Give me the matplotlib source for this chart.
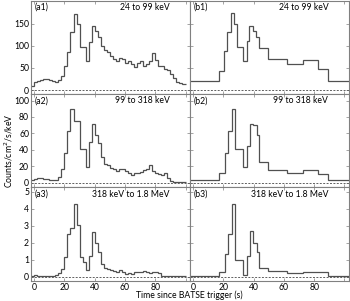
import numpy as np
import matplotlib.pyplot as plt

plt.rcParams['font.family'] = ['Lato', 'DejaVu Sans']
plt.rcParams['font.size'] = 6.2

# left column: fine time bins (2 s)
t_edges_a = np.arange(-2, 101, 2)
a1 = [9, 19, 21, 23, 24, 24, 23, 21, 19, 22, 32, 54, 86, 132, 172, 150, 98, 98, 65, 109,
      145, 133, 119, 100, 90, 86, 77, 71, 65, 73, 69, 62, 65, 58, 52, 62, 65, 54, 58, 65,
      83, 67, 54, 54, 48, 45, 37, 27, 19, 15, 14]
a2 = [3, 4, 5, 5, 4, 4, 3, 3, 3, 7, 17, 36, 63, 90, 75, 75, 41, 41, 19, 50,
      71, 58, 48, 31, 23, 21, 18, 16, 14, 16, 17, 14, 11, 9, 11, 11, 13, 15, 16, 21,
      14, 11, 10, 9, 11, 5, 2, 1, 1, 1, 1]
a3 = [0.02, 0.08, 0.05, 0.05, 0.04, 0.05, 0.05, 0.05, 0.1, 0.2, 0.44, 1.15, 2.5, 2.85, 4.3, 3.05,
      1.15, 0.85, 0.4, 1.2, 2.65, 1.95, 1.43, 0.75, 0.5, 0.43, 0.38, 0.33, 0.29, 0.38, 0.25,
      0.13, 0.2, 0.18, 0.29, 0.25, 0.29, 0.34, 0.25, 0.2, 0.25, 0.25, 0.2, 0.06, 0.05, 0.03,
      0.03, 0.03, 0.03, 0.03, 0.03]

# right column: variable-width blocks
t_edges_b1 = [-2, 16.8, 20.7, 22.2, 24.8, 27.0, 29.2, 33.2, 35.4, 37.1, 39.3, 41.9, 43.7,
              49.6, 62.2, 72.7, 82.6, 89.2, 103]
b1 = [21, 44, 88, 132, 173, 150, 98, 65, 110, 145, 133, 119, 94, 69, 58, 68, 48, 21]
t_edges_b2 = [-2, 16.8, 20.8, 23.4, 25.6, 27.4, 33.3, 35.5, 37.3, 39.4, 42.0, 43.8,
              49.7, 62.2, 72.7, 82.6, 89.2, 103]
b2 = [3, 12, 36, 63, 90, 41, 19, 44, 71, 70, 58, 25, 15, 11, 15, 10, 3]
t_edges_b3 = [-2, 16.8, 20.8, 23.4, 25.6, 27.4, 33.3, 35.5, 37.3, 39.4, 42.0, 43.8,
              49.7, 62.2, 72.7, 89.2, 103]
b3 = [0.04, 0.29, 1.33, 2.5, 4.3, 0.95, 0.1, 1.24, 2.67, 2.0, 1.43, 0.53, 0.32, 0.19, 0.25, 0.04]

bands = ['24 to 99 keV', '99 to 318 keV', '318 keV to 1.8 MeV']
ylims = [(-9, 202), (-6, 108), (-0.25, 5.25)]
yticks = [[0, 50, 100, 150], [0, 20, 40, 60, 80, 100], [0, 1, 2, 3, 4, 5]]

left_data = [a1, a2, a3]
right_data = [(t_edges_b1, b1), (t_edges_b2, b2), (t_edges_b3, b3)]

fig, axes = plt.subplots(3, 2, figsize=(3.5, 3.01), dpi=100, sharex=True)
fig.subplots_adjust(left=0.089, right=0.997, top=0.998, bottom=0.067, wspace=0, hspace=0)

line_c = '#505050'
spine_c = '#808080'
for i in range(3):
    for j in range(2):
        ax = axes[i, j]
        if j == 0:
            ax.stairs(left_data[i], t_edges_a, color=line_c, lw=0.9, baseline=None)
            tag = '(a%d)' % (i + 1)
        else:
            ax.stairs(right_data[i][1], right_data[i][0], color=line_c, lw=0.9, baseline=None)
            tag = '(b%d)' % (i + 1)
        ax.axhline(0, color='#606060', lw=0.7, ls=(0, (2, 1.5)))
        ax.set_xlim(-2, 103)
        ax.set_ylim(*ylims[i])
        ax.set_yticks(yticks[i])
        ax.set_xticks([0, 20, 40, 60, 80, 100])
        ax.set_xticklabels(['0', '20', '40', '60', '80', ''])
        ax.tick_params(direction='in', length=2, width=0.5, color=spine_c, pad=1.5,
                       top=True, right=True)
        for s in ax.spines.values():
            s.set_color(spine_c)
            s.set_linewidth(0.8)
        if j == 1:
            ax.set_yticklabels([])
        ax.text(0.02, 0.975, tag, transform=ax.transAxes, ha='left', va='top')
        ax.text(0.87, 0.975, bands[i], transform=ax.transAxes, ha='right', va='top')

fig.text(0.025, 0.5, 'Counts/cm$^2$/s/keV', rotation=90, va='center', ha='center')
fig.text(0.54, 0.003, 'Time since BATSE trigger (s)', ha='center', va='bottom')

fig.savefig('out.png', dpi=100)
